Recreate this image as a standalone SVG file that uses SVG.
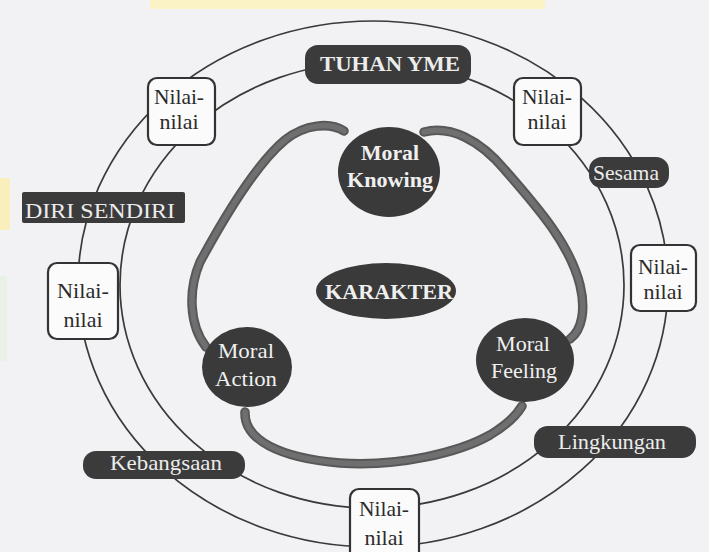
<svg xmlns="http://www.w3.org/2000/svg" width="709" height="552" viewBox="0 0 709 552">
<defs>
<style>
.bg{fill:#f2f2f5}
.ring{fill:none;stroke:#3a3a3a;stroke-width:1.7}
.arcO{fill:none;stroke:#585858;stroke-width:9.5;stroke-linecap:round}
.arcI{fill:none;stroke:#6f6f6f;stroke-width:5.5;stroke-linecap:round}
.nbox{fill:#fbfbfb;stroke:#333;stroke-width:2.2}
.ntxt{font-family:"Liberation Serif","Times New Roman",serif;font-size:22px;fill:#2b2b2b;text-anchor:middle}
.dbox{fill:#3b3b3b}
.dtxt{font-family:"Liberation Serif","Times New Roman",serif;font-size:22px;fill:#ececec;text-anchor:middle}
.circ{fill:#3a3a3a}
.ctxt{font-family:"Liberation Serif","Times New Roman",serif;font-size:22px;fill:#f0f0f0;text-anchor:middle}
.b{font-weight:bold}
</style>
</defs>
<rect class="bg" x="0" y="0" width="709" height="552"/>
<rect x="150" y="0" width="395" height="9" fill="#fbf3c6"/>
<rect x="0" y="178" width="10" height="52" fill="#f8efbc"/>
<rect x="0" y="276" width="7" height="85" fill="#e8f0e8"/>

<g id="connectors">
<ellipse class="ring" cx="373" cy="284" rx="295" ry="263"/>
<ellipse class="ring" cx="372" cy="285" rx="252" ry="223"/>
<path class="arcO" d="M344,131 C330,122 305,124 285,140 C255,165 220,225 200,262 C188,290 189,325 206,347"/>
<path class="arcO" d="M424,132 C450,125 480,140 505,170 C540,210 570,245 580,285 C586,310 582,330 570,339"/>
<path class="arcO" d="M245,412 C244,440 280,458 340,463 C400,467 460,452 490,435 C505,426 515,418 522,406"/>
<path class="arcI" d="M344,131 C330,122 305,124 285,140 C255,165 220,225 200,262 C188,290 189,325 206,347"/>
<path class="arcI" d="M424,132 C450,125 480,140 505,170 C540,210 570,245 580,285 C586,310 582,330 570,339"/>
<path class="arcI" d="M245,412 C244,440 280,458 340,463 C400,467 460,452 490,435 C505,426 515,418 522,406"/>
</g>

<g id="tuhan">
<rect class="dbox" x="305" y="45" width="166" height="39" rx="13"/>
<text class="dtxt b" x="390" y="71" font-size="23" textLength="140" lengthAdjust="spacingAndGlyphs">TUHAN YME</text>
</g>
<g id="diri">
<rect class="dbox" x="22" y="192" width="163" height="31" rx="2"/>
<text class="dtxt" x="100" y="218" font-size="25" textLength="150" lengthAdjust="spacingAndGlyphs">DIRI SENDIRI</text>
</g>
<g id="sesama">
<rect class="dbox" x="589" y="157" width="80" height="31" rx="13"/>
<text class="dtxt" x="626" y="180" font-size="21" textLength="66" lengthAdjust="spacingAndGlyphs">Sesama</text>
</g>
<g id="lingkungan">
<rect class="dbox" x="534" y="426" width="162" height="32" rx="14"/>
<text class="dtxt" x="612" y="449" textLength="108" lengthAdjust="spacingAndGlyphs">Lingkungan</text>
</g>
<g id="kebangsaan">
<rect class="dbox" x="83" y="451" width="162" height="28" rx="13"/>
<text class="dtxt" x="166" y="470" textLength="112" lengthAdjust="spacingAndGlyphs">Kebangsaan</text>
</g>

<g id="nilai1">
<rect class="nbox" x="148" y="78" width="67" height="67" rx="9"/>
<text class="ntxt" x="179" y="104" textLength="50" lengthAdjust="spacingAndGlyphs">Nilai-</text>
<text class="ntxt" x="179" y="129">nilai</text>
</g>
<g id="nilai2">
<rect class="nbox" x="514" y="78" width="67" height="67" rx="9"/>
<text class="ntxt" x="547" y="104" textLength="50" lengthAdjust="spacingAndGlyphs">Nilai-</text>
<text class="ntxt" x="547" y="129">nilai</text>
</g>
<g id="nilai3">
<rect class="nbox" x="631" y="245" width="65" height="66" rx="9"/>
<text class="ntxt" x="663" y="274" textLength="50" lengthAdjust="spacingAndGlyphs">Nilai-</text>
<text class="ntxt" x="663" y="299">nilai</text>
</g>
<g id="nilai4">
<rect class="nbox" x="48" y="263" width="70" height="76" rx="9"/>
<text class="ntxt" x="83" y="298" textLength="52" lengthAdjust="spacingAndGlyphs">Nilai-</text>
<text class="ntxt" x="83" y="327">nilai</text>
</g>
<g id="nilai5">
<rect class="nbox" x="350" y="489" width="69" height="75" rx="9"/>
<text class="ntxt" x="384" y="516" textLength="50" lengthAdjust="spacingAndGlyphs">Nilai-</text>
<text class="ntxt" x="384" y="545">nilai</text>
</g>

<g id="moral-knowing">
<ellipse class="circ" cx="389" cy="172" rx="51" ry="45"/>
<text class="ctxt b" x="390" y="160" textLength="58" lengthAdjust="spacingAndGlyphs">Moral</text>
<text class="ctxt b" x="390" y="187" textLength="86" lengthAdjust="spacingAndGlyphs">Knowing</text>
</g>
<g id="karakter">
<ellipse class="circ" cx="386" cy="291" rx="70" ry="28"/>
<text class="ctxt b" x="389" y="299" font-size="21" textLength="128" lengthAdjust="spacingAndGlyphs">KARAKTER</text>
</g>
<g id="moral-action">
<ellipse class="circ" cx="247" cy="367" rx="45" ry="40"/>
<text class="ctxt" x="246" y="358" textLength="56" lengthAdjust="spacingAndGlyphs">Moral</text>
<text class="ctxt" x="246" y="386" textLength="62" lengthAdjust="spacingAndGlyphs">Action</text>
</g>
<g id="moral-feeling">
<ellipse class="circ" cx="525" cy="360" rx="49" ry="42"/>
<text class="ctxt" x="523" y="351" textLength="54" lengthAdjust="spacingAndGlyphs">Moral</text>
<text class="ctxt" x="524" y="378" textLength="66" lengthAdjust="spacingAndGlyphs">Feeling</text>
</g>
</svg>
